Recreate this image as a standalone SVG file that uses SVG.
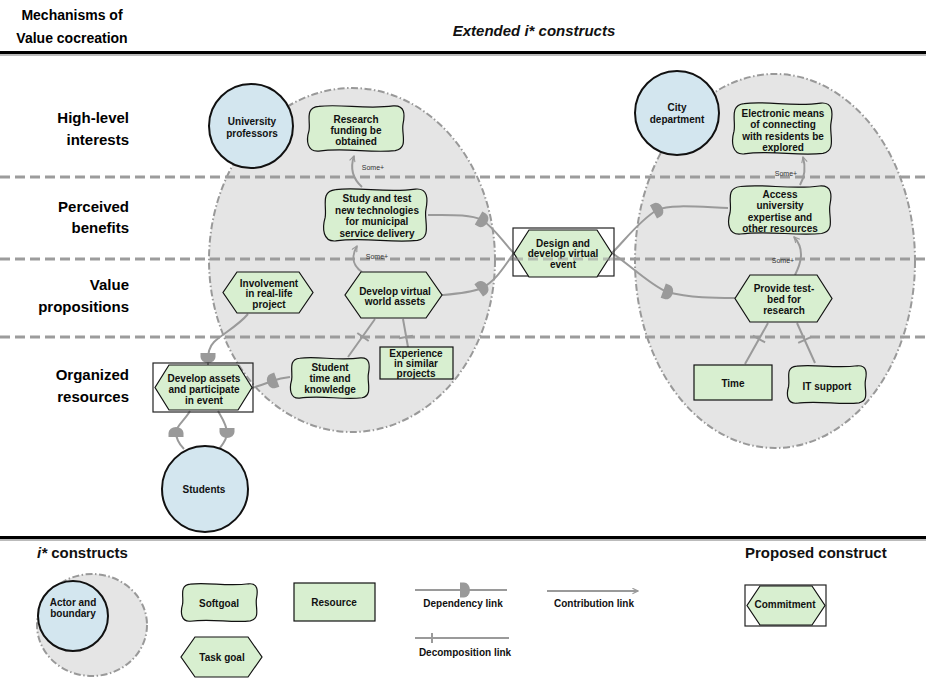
<svg xmlns="http://www.w3.org/2000/svg" xmlns:xlink="http://www.w3.org/1999/xlink" width="926" height="678" viewBox="0 0 926 678">
  <style>
    .t {font-family:"Liberation Sans",Arial,sans-serif;font-weight:bold;fill:#111}
    .n {font-size:10px;text-anchor:middle}
    .row {font-size:15px;text-anchor:end;fill:#000}
    .hd {font-size:14px;fill:#000}
    .some {font-family:"Liberation Sans",Arial,sans-serif;font-size:7px;fill:#333;text-anchor:middle}
    .soft, .task, .res {fill:#d8efd0;stroke:#111;stroke-width:1.2}
    .actor {fill:#d3e6ef;stroke:#111;stroke-width:2}
    .bnd {fill:#e5e5e5;stroke:#999;stroke-width:2;stroke-dasharray:7 2.5 1.5 2.5}
    .link {fill:none;stroke:#9a9a9a;stroke-width:2}
    .dep {fill:#9a9a9a}
    .box {fill:none;stroke:#222;stroke-width:1.2}
    .band {stroke:#9c9c9c;stroke-width:3;stroke-dasharray:10 5}
  </style>
  <defs>
    <!-- softgoal outline in a 100x100 box, scaled per node -->
    <path id="sg" vector-effect="non-scaling-stroke" d="M12,3 C35,-3 60,10 88,2 C100,0 100,20 98,40 C96,60 104,92 90,97 C65,103 40,90 12,98 C0,100 -1,75 2,55 C4,35 -3,6 12,3 Z"/>
    <!-- dependency "D": flat side at left, bulge toward +x -->
    <path id="dep" d="M-4,-7.5 H0 A6,7.5 0 0 1 0,7.5 H-4 Z"/>
    <marker id="arr" viewBox="0 0 10 10" refX="9" refY="5" markerWidth="7" markerHeight="7" orient="auto" markerUnits="userSpaceOnUse">
      <path d="M1,1 L9,5 L1,9" fill="none" stroke="#9a9a9a" stroke-width="1.6"/>
    </marker>
  </defs>

  <rect width="926" height="678" fill="#fff"/>

  <!-- header -->
  <g id="header">
    <text class="t hd" x="72" y="20" text-anchor="middle">Mechanisms of</text>
    <text class="t hd" x="72" y="43" text-anchor="middle">Value cocreation</text>
    <text class="t" x="534" y="36" font-size="15" font-style="italic" text-anchor="middle">Extended i* constructs</text>
    <line x1="0" y1="55" x2="926" y2="55" stroke="#bbb" stroke-width="2"/>
    <line x1="0" y1="52.5" x2="926" y2="52.5" stroke="#000" stroke-width="3"/>
  </g>

  <!-- row labels -->
  <g id="rows">
    <text class="t row" x="129" y="123">High-level</text>
    <text class="t row" x="129" y="145">interests</text>
    <text class="t row" x="129" y="212">Perceived</text>
    <text class="t row" x="129" y="233">benefits</text>
    <text class="t row" x="129" y="290">Value</text>
    <text class="t row" x="129" y="312">propositions</text>
    <text class="t row" x="129" y="380">Organized</text>
    <text class="t row" x="129" y="402">resources</text>
  </g>

  <!-- actor boundaries -->
  <ellipse id="boundary-university" class="bnd" cx="352" cy="260" rx="143" ry="172"/>
  <ellipse id="boundary-city" class="bnd" cx="775" cy="261" rx="140" ry="187"/>

  <!-- level separators -->
  <g id="bands">
    <line class="band" x1="0" y1="177" x2="926" y2="177"/>
    <line class="band" x1="0" y1="259" x2="926" y2="259"/>
    <line class="band" x1="0" y1="337" x2="926" y2="337"/>
  </g>

  <!-- connectors -->
  <g id="connectors">
    <!-- contributions -->
    <path class="link" marker-end="url(#arr)" d="M362,187 C352,178 350,168 354,156"/>
    <path class="link" marker-end="url(#arr)" d="M362,272 C352,265 351,257 357,246"/>
    <path class="link" marker-end="url(#arr)" d="M795,275 C800,265 806,250 794,237"/>
    <path class="link" marker-end="url(#arr)" d="M800,185 C804,178 806,168 803,157"/>
    <!-- dependencies -->
    <path class="link" d="M428,215 C450,215 470,214 482,220 C495,228 505,245 514,253"/>
    <use href="#dep" class="dep" transform="translate(482,220) rotate(30)"/>
    <path class="link" d="M442,295 C455,294 470,293 482,288 C497,280 505,265 514,253"/>
    <use href="#dep" class="dep" transform="translate(482,288) rotate(-35)"/>
    <path class="link" d="M612,253 C625,240 640,220 657,210 C670,204 700,207 728,208"/>
    <use href="#dep" class="dep" transform="translate(657,210) rotate(-28)"/>
    <path class="link" d="M612,253 C630,265 650,285 667,292 C690,298 715,298 735,298"/>
    <use href="#dep" class="dep" transform="translate(667,292) rotate(20)"/>
    <path class="link" d="M248,314 C238,326 222,334 214,342 C209,347 208,352 208,365"/>
    <use href="#dep" class="dep" transform="translate(208,357) rotate(90)"/>
    <path class="link" d="M290,377 C282,378 278,379 272,381 C265,384 258,386 252,388"/>
    <use href="#dep" class="dep" transform="translate(273,381) rotate(160)"/>
    <path class="link" d="M190,411 C185,420 176,426 176,432 C176,440 180,445 184,449"/>
    <use href="#dep" class="dep" transform="translate(176,433) rotate(-90)"/>
    <path class="link" d="M218,411 C222,418 227,425 227,433 C227,440 222,445 219,449"/>
    <use href="#dep" class="dep" transform="translate(227,432) rotate(90)"/>
    <!-- decompositions, each with its cross tick -->
    <path class="link" d="M348,357 L375,319 M357.3,333 L368.7,341"/>
    <path class="link" d="M408,347 L403,319 M399.1,338.2 L412.9,335.8"/>
    <path class="link" d="M745,364 L768,323 M752.9,335.6 L765.1,342.4"/>
    <path class="link" d="M815,363 L797,323 M798.2,342.9 L810.9,337.1"/>
  </g>
  <g id="some-labels">
    <text class="some" x="373" y="169.5">Some+</text>
    <text class="some" x="377" y="258.5">Some+</text>
    <text class="some" x="786" y="175.5">Some+</text>
    <text class="some" x="783" y="262.5">Some+</text>
  </g>

  <!-- actors -->
  <g id="university-professors">
    <circle class="actor" cx="251" cy="126" r="42"/>
    <text class="t n" font-size="10.5"><tspan x="252" y="124.5">University</tspan><tspan x="252" y="136.5">professors</tspan></text>
  </g>
  <g id="city-department">
    <circle class="actor" cx="677" cy="113" r="42"/>
    <text class="t n" font-size="10.5"><tspan x="677" y="110.5">City</tspan><tspan x="677" y="122.5">department</tspan></text>
  </g>
  <g id="students">
    <circle class="actor" cx="205" cy="489" r="43"/>
    <text class="t n" x="204" y="492.5">Students</text>
  </g>

  <!-- softgoals -->
  <g id="research-funding">
    <use href="#sg" class="soft" transform="translate(307,105) scale(0.98,0.47)"/>
    <text class="t n"><tspan x="356" y="122.5">Research</tspan><tspan x="356" y="133.5">funding be</tspan><tspan x="356" y="144.5">obtained</tspan></text>
  </g>
  <g id="study-and-test">
    <use href="#sg" class="soft" transform="translate(323,188) scale(1.05,0.54)"/>
    <text class="t n"><tspan x="377" y="202">Study and test</tspan><tspan x="377" y="213.5">new technologies</tspan><tspan x="377" y="225">for municipal</tspan><tspan x="377" y="236.5">service delivery</tspan></text>
  </g>
  <g id="student-time">
    <use href="#sg" class="soft" transform="translate(290,357) scale(0.80,0.42)"/>
    <text class="t n"><tspan x="330" y="370.5">Student</tspan><tspan x="330" y="381.5">time and</tspan><tspan x="330" y="392.5">knowledge</tspan></text>
  </g>
  <g id="electronic-means">
    <use href="#sg" class="soft" transform="translate(732,102) scale(1.01,0.53)"/>
    <text class="t n"><tspan x="783" y="116.5">Electronic means</tspan><tspan x="783" y="128">of connecting</tspan><tspan x="783" y="139.5">with residents be</tspan><tspan x="783" y="151">explored</tspan></text>
  </g>
  <g id="access-expertise">
    <use href="#sg" class="soft" transform="translate(728,185) scale(1.04,0.50)"/>
    <text class="t n"><tspan x="780" y="197.5">Access</tspan><tspan x="780" y="209">university</tspan><tspan x="780" y="220.5">expertise and</tspan><tspan x="780" y="232">other resources</tspan></text>
  </g>
  <g id="it-support">
    <use href="#sg" class="soft" transform="translate(787,365) scale(0.80,0.39)"/>
    <text class="t n" x="827" y="389.5">IT support</text>
  </g>

  <!-- tasks -->
  <g id="involvement">
    <polygon class="task" points="237,272 299,272 313,292.5 299,313 237,313 223,292.5"/>
    <text class="t n"><tspan x="269" y="286.5">Involvement</tspan><tspan x="269" y="297">in real-life</tspan><tspan x="269" y="307.5">project</tspan></text>
  </g>
  <g id="develop-virtual-assets">
    <polygon class="task" points="361,272 426,272 442,295 426,318 361,318 345,295"/>
    <text class="t n"><tspan x="395" y="294.5">Develop virtual</tspan><tspan x="395" y="305">world assets</tspan></text>
  </g>
  <g id="develop-and-participate">
    <rect class="box" x="153" y="363" width="100" height="49"/>
    <polygon class="task" points="169,365 238,365 252,387.5 238,410 169,410 155,387.5"/>
    <text class="t n"><tspan x="204" y="381.5">Develop assets</tspan><tspan x="204" y="392.5">and participate</tspan><tspan x="204" y="403.5">in event</tspan></text>
  </g>
  <g id="design-event">
    <rect class="box" x="513" y="228" width="101" height="48"/>
    <polygon class="task" points="529,230 597,230 612,253.5 597,277 529,277 514,253.5"/>
    <text class="t n"><tspan x="563" y="246.5">Design and</tspan><tspan x="563" y="257">develop virtual</tspan><tspan x="563" y="267.5">event</tspan></text>
  </g>
  <g id="provide-testbed">
    <polygon class="task" points="750,275 817,275 832,298.5 817,322 750,322 735,298.5"/>
    <text class="t n"><tspan x="784" y="291.5">Provide test-</tspan><tspan x="784" y="302.5">bed for</tspan><tspan x="784" y="313.5">research</tspan></text>
  </g>

  <!-- resources -->
  <g id="experience">
    <rect class="res" x="380" y="347" width="73" height="32"/>
    <text class="t n" font-size="9.5"><tspan x="416" y="356.5">Experience</tspan><tspan x="416" y="367">in similar</tspan><tspan x="416" y="377">projects</tspan></text>
  </g>
  <g id="time">
    <rect class="res" x="694" y="365" width="78" height="35"/>
    <text class="t n" x="733" y="386.5">Time</text>
  </g>

  <!-- separators drawn again lightly over the commitment node, where they show through -->
  <line x1="513" y1="259" x2="614" y2="259" class="band" opacity="0.6"/>

  <!-- legend -->
  <g id="legend">
    <line x1="0" y1="540" x2="926" y2="540" stroke="#bbb" stroke-width="2"/>
    <line x1="0" y1="537.5" x2="926" y2="537.5" stroke="#000" stroke-width="3"/>
    <text class="t" x="37" y="558" font-size="15"><tspan font-style="italic">i*</tspan> constructs</text>
    <text class="t" x="745" y="558" font-size="15">Proposed construct</text>

    <g id="legend-actor">
      <ellipse class="bnd" cx="92" cy="625" rx="55" ry="51"/>
      <circle class="actor" cx="73" cy="616" r="35"/>
      <text class="t n" font-size="8.5"><tspan x="73" y="606">Actor and</tspan><tspan x="73" y="617">boundary</tspan></text>
    </g>
    <g id="legend-softgoal">
      <use href="#sg" class="soft" transform="translate(181,583) scale(0.77,0.39)"/>
      <text class="t n" font-size="8.5" x="219" y="607">Softgoal</text>
    </g>
    <g id="legend-task">
      <polygon class="task" points="195,637 248,637 262,657 248,677 195,677 181,657"/>
      <text class="t n" font-size="8.5" x="222" y="661">Task goal</text>
    </g>
    <g id="legend-resource">
      <rect class="res" x="294" y="583" width="81" height="38"/>
      <text class="t n" font-size="8.5" x="334" y="606">Resource</text>
    </g>
    <g id="legend-dependency">
      <line class="link" x1="415" y1="590" x2="507" y2="590"/>
      <use href="#dep" class="dep" transform="translate(464,590)"/>
      <text class="t n" font-size="10.5" x="463" y="607">Dependency link</text>
    </g>
    <g id="legend-decomposition">
      <path class="link" d="M415,638 H509 M432,633 V643"/>
      <text class="t n" font-size="10.5" x="465" y="656">Decomposition link</text>
    </g>
    <g id="legend-contribution">
      <line class="link" x1="547" y1="591" x2="638" y2="591" marker-end="url(#arr)"/>
      <text class="t n" font-size="10.5" x="594" y="607">Contribution link</text>
    </g>
    <g id="legend-commitment">
      <rect class="box" x="745" y="585" width="81" height="41"/>
      <polygon class="task" points="760,586 812,586 825,605.5 812,625 760,625 747,605.5"/>
      <text class="t n" font-size="8" x="785" y="608">Commitment</text>
    </g>
  </g>
</svg>
